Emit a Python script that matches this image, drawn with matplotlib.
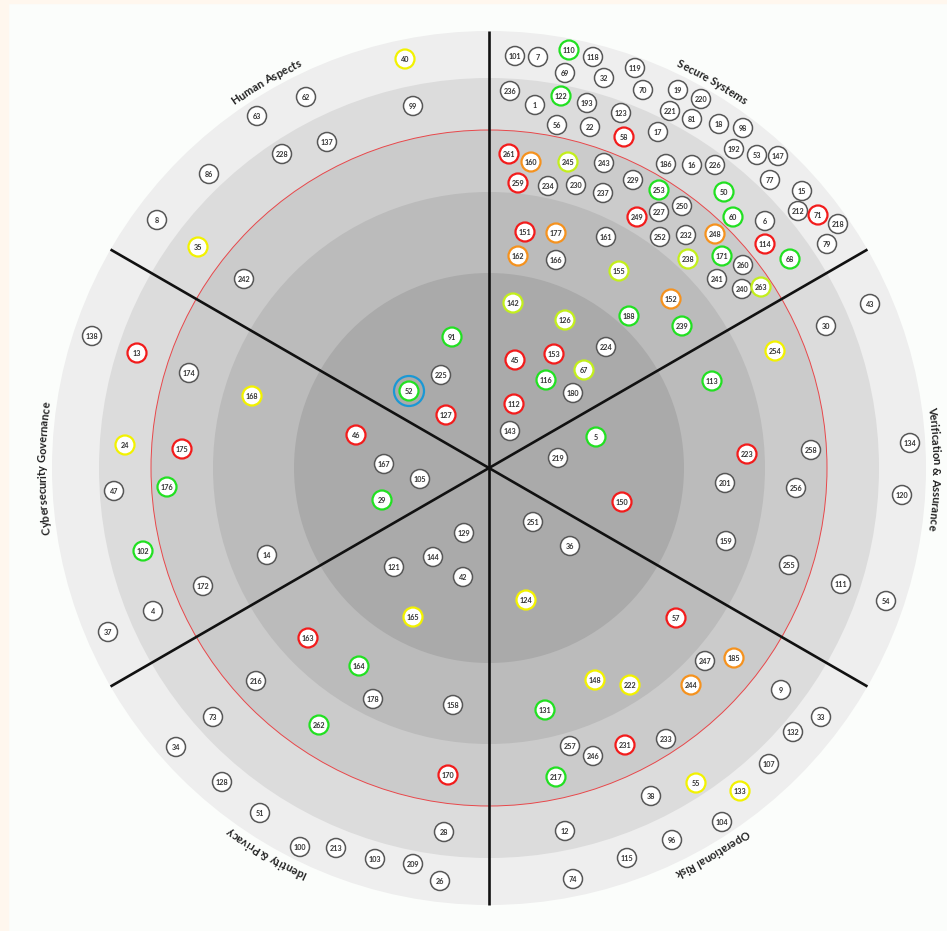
import numpy as np
import matplotlib
matplotlib.use("Agg")
import matplotlib.pyplot as plt
from matplotlib.patches import Circle, Rectangle
from matplotlib.font_manager import FontProperties

# rings (outer radius of each band) and sectors
ring_radii = [437, 390, 338, 276, 195]
ring_colors = ["#eeeeee", "#dcdcdc", "#cbcbcb", "#bbbbbb", "#aaaaaa"]
red_ring = 338
sector_names = ["Verification & Assurance", "Secure Systems", "Human Aspects",
                "Cybersecurity Governance", "Identity & Privacy", "Operational Risk"]
sector_mid = [0, 60, 120, 180, 240, 300]
sector_edges = [30, 90, 150, 210, 270, 330]

# items: id, position (x right, y up, from the centre) and status
item_ids = [
    # Human Aspects
    40, 62, 63, 99, 137, 228, 86, 8, 35, 242, 91, 225, 52, 127,
    # Secure Systems
    101, 7, 110, 118, 119, 69, 32, 236, 122, 1, 193, 70, 19, 220, 221, 81, 18, 98,
    123, 56, 22, 17, 192, 53, 147, 58, 261, 160, 245, 243, 186, 16, 226, 77, 15,
    212, 71, 218, 79, 259, 234, 230, 237, 229, 253, 50, 60, 6, 249, 227, 250, 114,
    252, 232, 248, 151, 177, 161, 162, 166, 155, 238, 171, 260, 68, 241, 240, 263,
    142, 126, 188, 152, 239, 45, 153, 224, 67, 116, 180, 112, 143,
    # Verification & Assurance
    43, 30, 254, 113, 134, 223, 258, 201, 256, 120, 159, 255, 111, 54, 5, 219, 150,
    # Operational Risk
    251, 36, 124, 57, 247, 185, 244, 9, 148, 222, 131, 33, 132, 233, 107, 257, 246,
    231, 217, 55, 133, 38, 104, 12, 115, 96, 74,
    # Identity & Privacy
    129, 144, 121, 42, 165, 163, 164, 178, 158, 216, 262, 73, 34, 128, 51, 100,
    213, 103, 209, 26, 28, 170,
    # Cybersecurity Governance
    138, 13, 174, 168, 46, 24, 175, 47, 176, 167, 105, 29, 102, 14, 172, 4, 37,
]
item_x = [
    -84, -183, -232, -76, -162, -207, -280, -332, -291, -245, -37, -48, -80, -43,
    26, 49, 80, 104, 146, 76, 115, 21, 72, 46, 98, 154, 189, 212, 181, 203, 230, 254,
    132, 68, 101, 169, 245, 268, 289, 135, 20, 42, 79, 115, 177, 203, 226, 281, 313,
    309, 329, 349, 338, 29, 59, 87, 114, 144, 170, 235, 244, 276, 148, 170, 193, 276,
    171, 197, 226, 36, 67, 117, 29, 67, 130, 199, 233, 254, 301, 228, 253, 272,
    24, 76, 140, 182, 193, 26, 65, 117, 95, 57, 84, 25, 21,
    381, 337, 286, 223, 421, 258, 322, 236, 307, 413, 237, 300, 352, 397, 107, 69, 133,
    44, 81, 37, 187, 216, 245, 202, 292, 106, 141, 56, 332, 304, 177, 280, 81, 104,
    136, 67, 207, 251, 162, 233, 76, 138, 183, 84,
    -25, -56, -95, -26, -76, -181, -130, -116, -36, -233, -170, -276, -313, -267, -229, -189,
    -153, -114, -76, -49, -45, -41,
    -397, -352, -300, -237, -133, -364, -307, -375, -322, -105, -69, -107, -346, -222, -286, -336, -381,
]
item_y = [
    409, 371, 352, 362, 326, 314, 294, 248, 221, 189, 131, 93, 77, 53,
    412, 411, 418, 411, 400, 395, 390, 377, 372, 363, 365, 378, 378, 369, 357, 349, 344, 340,
    355, 343, 341, 336, 319, 313, 312, 331, 314, 306, 306, 305, 304, 303, 303, 288, 277,
    257, 253, 244, 224, 285, 282, 283, 275, 288, 278, 276, 251, 247, 251, 256, 262, 224,
    231, 233, 234, 236, 235, 231, 212, 208, 197, 209, 212, 203, 209, 189, 179, 181,
    165, 148, 152, 169, 142, 108, 114, 121, 98, 88, 75, 64, 37,
    164, 142, 117, 87, 25, 14, 18, -15, -20, -27, -73, -97, -116, -133, 31, 10, -34,
    -54, -78, -132, -150, -193, -190, -217, -222, -212, -217, -242, -249, -264, -271, -296, -278, -288,
    -277, -309, -315, -323, -328, -354, -363, -390, -372, -411,
    -65, -89, -99, -109, -149, -170, -198, -231, -237, -213, -257, -249, -279, -314, -345, -379,
    -380, -391, -396, -413, -364, -307,
    132, 115, 95, 72, 33, 23, 19, -23, -19, 4, -11, -32, -83, -87, -118, -143, -164,
]
item_status = [
    "yellow", "none", "none", "none", "none", "none", "none", "none", "yellow", "none",
    "green", "none", "green", "red",
    "none", "none", "green", "none", "none", "none", "none", "none", "green", "none", "none",
    "none", "none", "none", "none", "none", "none", "none",
    "none", "none", "none", "none", "none", "none", "none", "red", "red", "orange", "lime",
    "none", "none", "none", "none", "none", "none",
    "none", "red", "none", "none", "red", "none", "none", "none", "none", "green", "green",
    "green", "none", "red", "none", "none", "red",
    "none", "none", "orange", "red", "orange", "none", "orange", "none", "lime", "lime",
    "green", "none", "green", "none", "none", "lime",
    "lime", "lime", "green", "orange", "green", "red", "red", "none", "lime", "green",
    "none", "red", "none",
    "none", "none", "yellow", "green", "none", "red", "none", "none", "none", "none", "none",
    "none", "none", "none", "green", "none", "red",
    "none", "none", "yellow", "red", "none", "orange", "orange", "none", "yellow", "yellow",
    "green", "none", "none", "none", "none", "none", "none",
    "red", "green", "yellow", "yellow", "none", "none", "none", "none", "none", "none",
    "none", "none", "none", "none", "yellow", "red", "green", "none", "none", "none", "green",
    "none", "none", "none", "none", "none",
    "none", "none", "none", "none", "none", "red",
    "none", "red", "none", "yellow", "red", "yellow", "red", "none", "green", "none", "none",
    "green", "green", "none", "none", "none", "none",
]
highlight_id = 52

status_colors = {"none": "#575757", "red": "#f21c1c", "orange": "#f5921e",
                 "yellow": "#f2f200", "lime": "#c3ef1c", "green": "#22e022"}


def curved_label(ax, renderer, text, theta_c, radius, prop):
    space = (renderer.get_text_width_height_descent("x x", prop, ismath=False)[0]
             - renderer.get_text_width_height_descent("xx", prop, ismath=False)[0])
    widths = []
    for ch in text:
        if ch == " ":
            widths.append(space)
        else:
            widths.append(renderer.get_text_width_height_descent(ch, prop, ismath=False)[0])
    total = sum(widths)
    start = np.radians(theta_c) + total / (2 * radius)
    cum = 0
    for ch, w in zip(text, widths):
        th = start - (cum + w / 2) / radius
        ax.text(radius * np.cos(th), radius * np.sin(th), ch,
                rotation=np.degrees(th) - 90, rotation_mode="anchor",
                ha="center", va="baseline", fontproperties=prop, color="#222222")
        cum += w


def main():
    fig = plt.figure(figsize=(9.47, 9.31), dpi=100, facecolor="#fbfdfb")
    ax = fig.add_axes([0, 0, 1, 1])
    ax.set_xlim(-489, 458)
    ax.set_ylim(-463, 468)
    ax.set_aspect("equal")
    ax.axis("off")

    fig.patches.append(Rectangle((0, 0), 8 / 947, 1, transform=fig.transFigure,
                                 color="#fff7ee", zorder=0))
    fig.patches.append(Rectangle((0, 1 - 3 / 931), 1, 3 / 931, transform=fig.transFigure,
                                 color="#fff7ee", zorder=0))

    for r, c in zip(ring_radii, ring_colors):
        ax.add_patch(Circle((0, 0), r, facecolor=c, edgecolor="none", zorder=1))
    ax.add_patch(Circle((0, 0), red_ring, facecolor="none", edgecolor="#e8474a",
                        linewidth=0.7, zorder=2))

    for a in sector_edges:
        t = np.radians(a)
        ax.plot([0, ring_radii[0] * np.cos(t)], [0, ring_radii[0] * np.sin(t)],
                color="#111111", linewidth=1.9, zorder=3, solid_capstyle="butt")

    for i, x, y, s in zip(item_ids, item_x, item_y, item_status):
        lw = 1.1 if s == "none" else 1.6
        ax.add_patch(Circle((x, y), 9.5, facecolor="white", edgecolor=status_colors[s],
                            linewidth=lw, zorder=4))
        ax.text(x, y - 0.3, str(i), ha="center", va="center", fontsize=5.2,
                family="Lato", fontweight="bold", color="#333333", zorder=5)
        if i == highlight_id:
            ax.add_patch(Circle((x, y), 15, facecolor="none", edgecolor="#1a98d5",
                                linewidth=1.6, zorder=4))

    renderer = fig.canvas.get_renderer()
    prop = FontProperties(family="Lato", weight="bold", size=8)
    for name, mid in zip(sector_names, sector_mid):
        curved_label(ax, renderer, name, mid, 443, prop)

    fig.savefig("out.png", dpi=100, facecolor=fig.get_facecolor())


if __name__ == "__main__":
    main()
